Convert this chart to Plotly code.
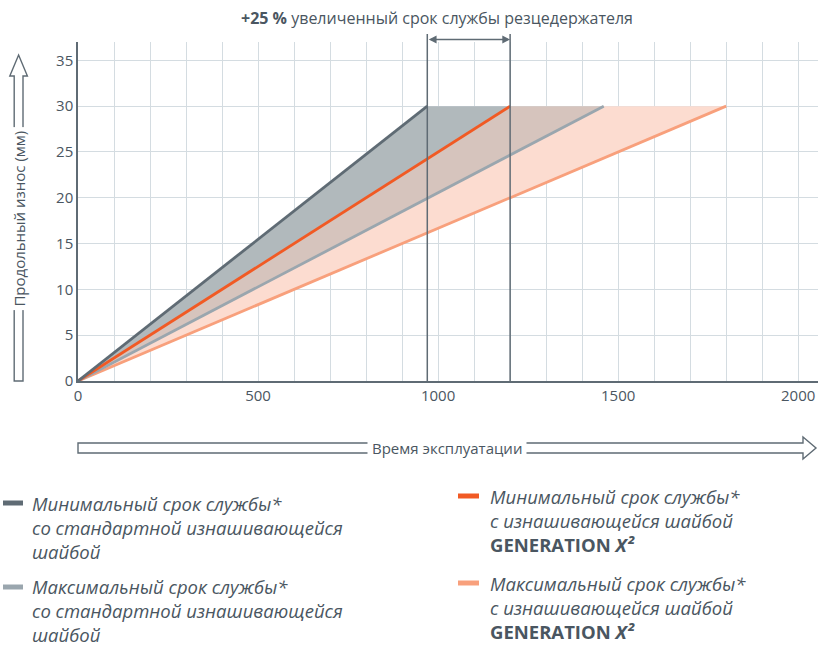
import plotly.graph_objects as go

# ── Data ─────────────────────────────────────────────────────────────────────
WEAR = [0, 30]                 # продольный износ, мм
T_MIN_STD = [0, 970]           # мин. срок, стандартная шайба
T_MAX_STD = [0, 1460]          # макс. срок, стандартная шайба
T_MIN_GX2 = [0, 1200]          # мин. срок, GENERATION X²
T_MAX_GX2 = [0, 1800]          # макс. срок, GENERATION X²
X_TICKS = [0, 500, 1000, 1500, 2000]
Y_TICKS = [0, 5, 10, 15, 20, 25, 30, 35]

DARK_GREY = "#5f6b74"
LIGHT_GREY = "#9aa6ae"
ORANGE = "#f15a24"
LIGHT_ORANGE = "#f8a07c"
TEXT = "#4a5661"
GRID = "#d4dce1"
FONT = "Open Sans"

W, H = 818, 646
L, T, B = 78, 42, 381       # plot area pixel edges
R = 818


def px_x(p):
    return (p - L) / (R - L)


def px_y(p):
    return (B - p) / (B - T)


fig = go.Figure()

# shaded wedges between neighbouring lines
bands = [
    (T_MIN_STD, T_MIN_GX2, "#b1b9bc"),
    (T_MIN_GX2, T_MAX_STD, "#d6c4bd"),
    (T_MAX_STD, T_MAX_GX2, "#fcdcd0"),
]
for left, right, col in bands:
    fig.add_trace(go.Scatter(
        x=left + right[::-1], y=WEAR + WEAR[::-1],
        fill="toself", fillcolor=col,
        line=dict(width=0), mode="lines", hoverinfo="skip",
    ))

for xs, col in [(T_MAX_GX2, LIGHT_ORANGE), (T_MAX_STD, LIGHT_GREY),
                (T_MIN_GX2, ORANGE), (T_MIN_STD, DARK_GREY)]:
    fig.add_trace(go.Scatter(x=xs, y=WEAR, mode="lines",
                             line=dict(color=col, width=2.8), hoverinfo="skip"))

# ── Vertical markers + dimension arrow ──────────────────────────────────────
for xv in (T_MIN_STD[1], T_MIN_GX2[1]):
    fig.add_shape(type="line", xref="x", yref="paper",
                  x0=xv, x1=xv, y0=0, y1=px_y(34),
                  line=dict(color=DARK_GREY, width=1.5))

fig.add_annotation(x=T_MIN_GX2[1], y=px_y(39.5), xref="x", yref="paper",
                   ax=T_MIN_STD[1], axref="x", ay=0, ayref="pixel",
                   text="", showarrow=True, arrowhead=2, arrowside="end+start",
                   arrowsize=1.2, arrowwidth=1.3, arrowcolor=DARK_GREY)

fig.add_annotation(x=px_x(437), y=px_y(18), xref="paper", yref="paper",
                   xanchor="center", yanchor="middle",
                   text="<b>+25 %</b> увеличенный срок службы резцедержателя",
                   showarrow=False, font=dict(size=16, color=TEXT, family=FONT))

# ── Hollow axis arrows ───────────────────────────────────────────────────────
def path(points):
    s = "M " + " L ".join(f"{px_x(x):.5f},{px_y(y):.5f}" for x, y in points)
    return s + " Z"


fig.add_shape(type="path", xref="paper", yref="paper",
              path=path([(14.2, 381), (14.2, 76), (9.8, 76), (18.6, 55),
                         (27.4, 76), (23, 76), (23, 381)]),
              line=dict(color=DARK_GREY, width=1.4), fillcolor="white")
fig.add_shape(type="path", xref="paper", yref="paper",
              path=path([(78, 443), (803, 443), (803, 437), (816, 448),
                         (803, 459), (803, 453), (78, 453)]),
              line=dict(color=DARK_GREY, width=1.4), fillcolor="white")

fig.add_annotation(x=px_x(18.6), y=px_y(219), xref="paper", yref="paper",
                   xanchor="center", yanchor="middle",
                   text="Продольный износ (мм)", textangle=-90, showarrow=False,
                   bgcolor="white", borderpad=3,
                   font=dict(size=15, color=TEXT, family=FONT))
fig.add_annotation(x=px_x(447), y=px_y(448), xref="paper", yref="paper",
                   xanchor="center", yanchor="middle",
                   text="Время эксплуатации", showarrow=False,
                   bgcolor="white", borderpad=4,
                   font=dict(size=15, color=TEXT, family=FONT))

# ── Legend (custom) ─────────────────────────────────────────────────────────
GX2 = "<b>GENERATION <i>X²</i></b>"
legend_items = [
    (DARK_GREY, 3, 23, 30, 503, 527,
     "<i>Минимальный срок службы*<br>со стандартной изнашивающейся<br>шайбой</i>"),
    (LIGHT_GREY, 3, 23, 30, 587, 610,
     "<i>Максимальный срок службы*<br>со стандартной изнашивающейся<br>шайбой</i>"),
    (ORANGE, 458, 479, 488, 496, 520,
     "<i>Минимальный срок службы*<br>с изнашивающейся шайбой</i><br>" + GX2),
    (LIGHT_ORANGE, 458, 479, 488, 583, 607,
     "<i>Максимальный срок службы*<br>с изнашивающейся шайбой</i><br>" + GX2),
]
for col, x0, x1, tx, my, ty, txt in legend_items:
    fig.add_shape(type="line", xref="paper", yref="paper",
                  x0=px_x(x0), x1=px_x(x1), y0=px_y(my), y1=px_y(my),
                  line=dict(color=col, width=5))
    fig.add_annotation(x=px_x(tx), y=px_y(ty), xref="paper", yref="paper",
                       xanchor="left", yanchor="middle", align="left",
                       text=txt, showarrow=False,
                       font=dict(size=18.5, color=TEXT, family=FONT))

fig.update_layout(
    width=W, height=H,
    margin=dict(l=L, r=W - R, t=T, b=H - B),
    paper_bgcolor="white", plot_bgcolor="white",
    showlegend=False,
    font=dict(family=FONT, color=TEXT),
    xaxis=dict(range=[0, 2055], tickvals=X_TICKS, showgrid=True,
               gridcolor=GRID, gridwidth=1,
               minor=dict(dtick=100, tick0=0, showgrid=True, gridcolor=GRID),
               showline=True, linecolor=DARK_GREY, linewidth=1.5,
               zeroline=False, ticks="", tickfont=dict(size=15, color=TEXT)),
    yaxis=dict(range=[0, 37], tickvals=Y_TICKS, showgrid=True,
               gridcolor=GRID, gridwidth=1,
               showline=True, linecolor=DARK_GREY, linewidth=1.5,
               zeroline=False, ticks="", tickfont=dict(size=15, color=TEXT)),
)

fig.write_html("out.html", config={"displayModeBar": False},
               post_script="document.body.style.margin='0';")
